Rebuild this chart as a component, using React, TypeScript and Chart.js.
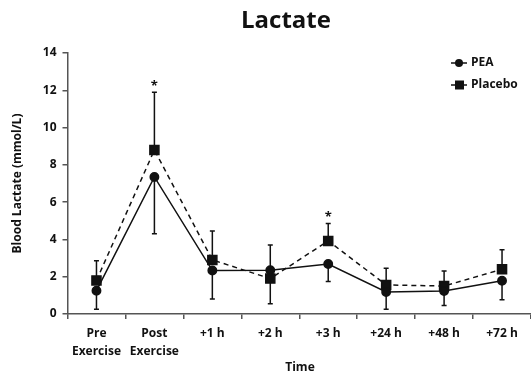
import React, { useEffect, useRef } from "react";
import { Chart, registerables } from "chart.js";

Chart.register(...registerables);

const categories: string[][] = [
  ["Pre", "Exercise"],
  ["Post", "Exercise"],
  ["+1 h"],
  ["+2 h"],
  ["+3 h"],
  ["+24 h"],
  ["+48 h"],
  ["+72 h"],
];
const peaValues = [1.25, 7.35, 2.33, 2.35, 2.68, 1.18, 1.23, 1.78];
const placeboValues = [1.8, 8.8, 2.9, 1.9, 3.92, 1.56, 1.5, 2.4];
const peaSD = [1.0, 3.05, 1.52, 1.35, 0.93, 0.93, 0.78, 1.02];
const placeboSD = [1.05, 3.1, 1.55, 1.35, 0.93, 0.9, 0.8, 1.05];
const significant = [false, true, false, false, true, false, false, false];
const yTicks = [0, 2, 4, 6, 8, 10, 12, 14];

const FONT = "'Open Sans', 'Liberation Sans', sans-serif";
const AXIS_COLOR = "#555555";

const overlayPlugin = {
  id: "overlay",
  beforeDatasetsDraw(chart: any) {
    const ctx = chart.ctx;
    const x = chart.scales.x;
    const y = chart.scales.y;
    ctx.save();
    ctx.strokeStyle = "#111";
    ctx.lineWidth = 1.5;
    const cap = 2.5;
    for (let i = 0; i < categories.length; i++) {
      const px = x.getPixelForValue(i);
      const pairs: [number, number, number][] = [
        [peaValues[i], peaSD[i], peaValues[i] >= placeboValues[i] ? 1 : -1],
        [placeboValues[i], placeboSD[i], placeboValues[i] > peaValues[i] ? 1 : -1],
      ];
      for (const [v, sd, dir] of pairs) {
        const y0 = y.getPixelForValue(v);
        const y1 = y.getPixelForValue(v + dir * sd);
        ctx.beginPath();
        ctx.moveTo(px, y0);
        ctx.lineTo(px, y1);
        ctx.moveTo(px - cap, y1);
        ctx.lineTo(px + cap, y1);
        ctx.stroke();
      }
    }
    ctx.restore();
  },
  afterDraw(chart: any) {
    const ctx = chart.ctx;
    const x = chart.scales.x;
    const y = chart.scales.y;
    const area = chart.chartArea;
    ctx.save();
    ctx.fillStyle = "#111";
    // asterisks
    ctx.font = `bold 13px ${FONT}`;
    ctx.textAlign = "center";
    ctx.textBaseline = "middle";
    for (let i = 0; i < categories.length; i++) {
      if (!significant[i]) continue;
      const top = Math.max(peaValues[i], placeboValues[i]) +
        (placeboValues[i] > peaValues[i] ? placeboSD[i] : peaSD[i]);
      const py = y.getPixelForValue(top);
      ctx.fillText("*", x.getPixelForValue(i), py - 6);
    }
    // title
    ctx.font = `bold 24px ${FONT}`;
    ctx.textBaseline = "middle";
    ctx.fillText("Lactate", 286, 21);
    // axis titles
    ctx.font = `bold 12px ${FONT}`;
    ctx.fillText("Time", 300, 368);
    ctx.save();
    ctx.translate(18, (area.top + area.bottom) / 2);
    ctx.rotate(-Math.PI / 2);
    ctx.fillText("Blood Lactate (mmol/L)", 0, 0);
    ctx.restore();
    // legend
    const items = [
      { label: "PEA", style: "circle", y: 63 },
      { label: "Placebo", style: "rect", y: 85 },
    ];
    ctx.textAlign = "left";
    for (const it of items) {
      ctx.strokeStyle = "#111";
      ctx.lineWidth = 1.5;
      ctx.beginPath();
      ctx.moveTo(451, it.y);
      ctx.lineTo(467, it.y);
      ctx.stroke();
      ctx.beginPath();
      if (it.style === "circle") {
        ctx.arc(459, it.y, 4, 0, Math.PI * 2);
      } else {
        ctx.rect(455, it.y - 4.5, 9, 9);
      }
      ctx.fill();
      ctx.fillText(it.label, 471, it.y);
    }
    ctx.restore();
  },
};

export default function App() {
  const canvasRef = useRef<HTMLCanvasElement | null>(null);

  useEffect(() => {
    if (!canvasRef.current) return;
    const chart = new Chart(canvasRef.current, {
      type: "line",
      data: {
        labels: categories,
        datasets: [
          {
            label: "PEA",
            data: peaValues,
            borderColor: "#111",
            backgroundColor: "#111",
            borderWidth: 1.5,
            pointStyle: "circle",
            pointRadius: 4.2,
            pointHoverRadius: 4.2,
            tension: 0,
            clip: false,
          },
          {
            label: "Placebo",
            data: placeboValues,
            borderColor: "#111",
            backgroundColor: "#111",
            borderWidth: 1.5,
            borderDash: [5, 4],
            pointStyle: "rect",
            pointRadius: 6.4,
            pointHoverRadius: 6.4,
            tension: 0,
            clip: false,
          },
        ],
      },
      options: {
        animation: false,
        responsive: false,
        maintainAspectRatio: false,
        events: [],
        layout: { autoPadding: false, padding: { top: 53, right: -2, left: 0, bottom: 0 } },
        plugins: {
          legend: { display: false },
          title: { display: false },
          tooltip: { enabled: false },
        },
        scales: {
          x: {
            type: "category",
            offset: true,
            afterFit: (s: any) => {
              s.height = 67;
              s.paddingLeft = 0;
              s.paddingRight = -2;
            },
            border: { display: true, color: AXIS_COLOR, width: 1.5 },
            grid: {
              drawOnChartArea: false,
              drawTicks: true,
              tickLength: 5,
              offset: true,
              color: AXIS_COLOR,
              lineWidth: 1.5,
            },
            ticks: {
              color: "#111",
              font: { family: FONT, size: 12, weight: "bold", lineHeight: 1.5 },
              padding: 6,
              maxRotation: 0,
              autoSkip: false,
            },
          },
          y: {
            min: 0,
            max: 14,
            afterFit: (s: any) => {
              s.width = 67.5;
              s.paddingTop = 0;
              s.paddingBottom = 0;
            },
            afterBuildTicks: (s: any) => {
              s.ticks = yTicks.map((v) => ({ value: v }));
            },
            border: { display: true, color: AXIS_COLOR, width: 1.5 },
            grid: {
              drawOnChartArea: false,
              drawTicks: true,
              tickLength: 5,
              color: AXIS_COLOR,
              lineWidth: 1.5,
            },
            ticks: {
              color: "#111",
              font: { family: FONT, size: 12, weight: "bold" },
              padding: 6,
            },
          },
        },
      },
      plugins: [overlayPlugin],
    } as any);
    return () => chart.destroy();
  }, []);

  return (
    <div style={{ position: "fixed", left: 0, top: 0, width: 531, height: 381, background: "#fff" }}>
      <canvas ref={canvasRef} width={531} height={381} style={{ width: 531, height: 381 }} />
    </div>
  );
}
